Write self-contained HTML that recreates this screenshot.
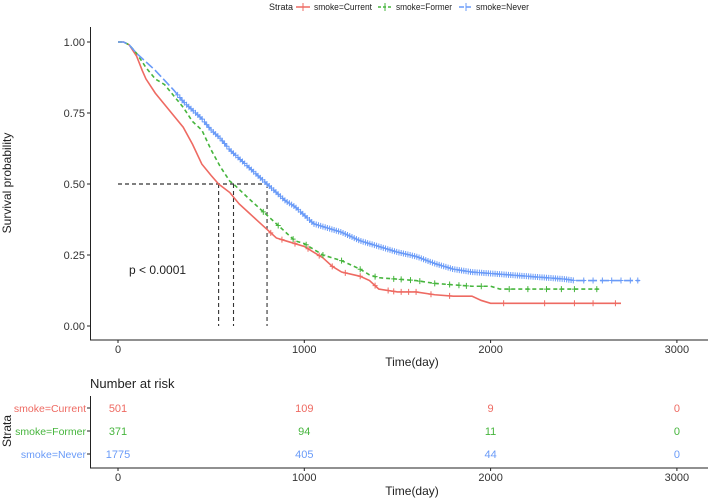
<!DOCTYPE html>
<html><head><meta charset="utf-8"><style>
body{margin:0;background:#fff;}
svg{display:block;font-family:"Liberation Sans",sans-serif;}
</style></head><body>
<svg id="chart" width="708" height="499" viewBox="0 0 708 499">
<g id="legend">
<text x="269" y="10" font-size="9" fill="#222">Strata</text>
<g><line x1="296" y1="7" x2="310" y2="7" stroke="#EE6A62" stroke-width="1.5"/><line x1="303" y1="3" x2="303" y2="11" stroke="#EE6A62" stroke-width="1"/><text x="314" y="10" font-size="9" fill="#222" textLength="58" lengthAdjust="spacingAndGlyphs">smoke=Current</text></g>
<g><line x1="378" y1="7" x2="392" y2="7" stroke="#46B53D" stroke-width="1.5" stroke-dasharray="3,2"/><line x1="385" y1="3" x2="385" y2="11" stroke="#46B53D" stroke-width="1"/><text x="396" y="10" font-size="9" fill="#222" textLength="56" lengthAdjust="spacingAndGlyphs">smoke=Former</text></g>
<g><line x1="459" y1="7" x2="473" y2="7" stroke="#6A9BF8" stroke-width="1.5" stroke-dasharray="5,2"/><line x1="466" y1="3" x2="466" y2="11" stroke="#6A9BF8" stroke-width="1"/><text x="476" y="10" font-size="9" fill="#222" textLength="53" lengthAdjust="spacingAndGlyphs">smoke=Never</text></g>
</g>
<g id="main"></g>
<g id="risk"></g>
</svg>
<script>
const xTicks=[0,1000,2000,3000];
const yTicks=[0,0.25,0.5,0.75,1];
const yTickLabels=["0.00","0.25","0.50","0.75","1.00"];
const seriesNames=["smoke=Current","smoke=Former","smoke=Never"];
const currentT=[0,30,60,100,130,150,200,250,300,350,400,450,500,540,600,650,700,750,800,850,900,1000,1050,1100,1150,1200,1300,1350,1400,1500,1600,1700,1800,1900,1950,2000,2700];
const currentS=[1,1,0.99,0.95,0.90,0.87,0.82,0.78,0.74,0.70,0.64,0.57,0.53,0.50,0.47,0.43,0.40,0.37,0.34,0.31,0.30,0.28,0.26,0.24,0.21,0.19,0.175,0.16,0.13,0.12,0.12,0.11,0.105,0.105,0.09,0.08,0.08];
const formerT=[0,30,60,100,150,200,250,300,350,400,450,500,550,600,620,700,800,850,900,950,1000,1050,1100,1200,1300,1350,1400,1500,1600,1700,1800,1900,2000,2050,2580];
const formerS=[1,1,0.99,0.96,0.91,0.87,0.85,0.81,0.77,0.72,0.69,0.62,0.56,0.51,0.50,0.45,0.39,0.36,0.33,0.30,0.29,0.27,0.25,0.23,0.20,0.18,0.17,0.165,0.16,0.15,0.145,0.14,0.14,0.13,0.13];
const neverT=[0,30,60,100,200,300,350,400,450,500,550,600,650,700,750,800,850,900,950,1000,1050,1100,1200,1300,1400,1500,1600,1700,1800,1900,2000,2100,2200,2300,2400,2450,2800];
const neverS=[1,1,0.99,0.96,0.90,0.83,0.79,0.76,0.73,0.69,0.66,0.62,0.59,0.56,0.53,0.50,0.47,0.44,0.42,0.39,0.36,0.35,0.33,0.30,0.28,0.26,0.245,0.22,0.20,0.19,0.185,0.18,0.175,0.17,0.165,0.16,0.16];
const currentCens=[820,880,950,1020,1080,1150,1220,1300,1380,1450,1480,1520,1560,1600,1680,1780,2070,2290,2450,2550,2670];
const formerCens=[780,860,940,1010,1100,1200,1300,1380,1480,1520,1570,1620,1700,1780,1830,1870,1950,2100,2200,2300,2380,2450,2570];
const neverCens=[];
for(let t=320;t<=2450;t+=12){neverCens.push(t);}
neverCens.push(2500,2550,2600,2650,2700,2750,2790);
const medians=[540,620,800];
const riskCurrent=[501,109,9,0];
const riskFormer=[371,94,11,0];
const riskNever=[1775,405,44,0];
const colors=["#EE6A62","#46B53D","#6A9BF8"];
const dashes=["none","4,3","9,3"];

const NS="http://www.w3.org/2000/svg";
function mk(tag,attrs,parent,text){const e=document.createElementNS(NS,tag);for(const k in attrs)e.setAttribute(k,attrs[k]);if(text!==undefined)e.textContent=text;parent.appendChild(e);return e;}
const X=t=>118+t*0.1863;
const Y=s=>326-s*284;
const main=document.getElementById('main');
let ax=mk('line',{x1:90.5,y1:27,x2:90.5,y2:340,stroke:'#222','stroke-width':1},main);


ax=mk('line',{x1:90,y1:340,x2:708,y2:340,stroke:'#222','stroke-width':1},main);


yTicks.forEach((v,i)=>{
  mk('line',{x1:87,x2:90,y1:Y(v),y2:Y(v),stroke:'#222'},main);
  const t=mk('text',{x:85,y:Y(v)+4,'text-anchor':'end','font-size':11,fill:'#333'},main,yTickLabels[i]);
  
  
});
xTicks.forEach(v=>{
  mk('line',{x1:X(v),x2:X(v),y1:340,y2:343,stroke:'#222'},main);
  const t=mk('text',{x:X(v),y:353,'text-anchor':'middle','font-size':11,fill:'#333'},main,String(v));
  
  
});
let tt=mk('text',{x:412,y:366,'text-anchor':'middle','font-size':12,fill:'#222'},main,'Time(day)');


tt=mk('text',{transform:'translate(11,183) rotate(-90)','text-anchor':'middle','font-size':12,fill:'#222'},main,'Survival probability');


tt=mk('text',{x:129,y:274,'font-size':12,fill:'#222'},main,'p < 0.0001');


const maxMed=Math.max(...medians);
let ml=mk('line',{x1:X(0),x2:X(maxMed),y1:Y(0.5),y2:Y(0.5),stroke:'#333','stroke-width':1.2,'stroke-dasharray':'4,3'},main);


medians.forEach(m=>{
  const l=mk('line',{x1:X(m),x2:X(m),y1:Y(0.5),y2:Y(0),stroke:'#333','stroke-width':1.1,'stroke-dasharray':'4,3'},main);
  
  
});
function valAt(T,S,t){
  for(let i=1;i<T.length;i++){ if(t<=T[i]){const f=(t-T[i-1])/(T[i]-T[i-1]);return S[i-1]+f*(S[i]-S[i-1]);} }
  return S[S.length-1];
}
const all=[[currentT,currentS,currentCens],[formerT,formerS,formerCens],[neverT,neverS,neverCens]];
const names=['current','former','never'];
all.forEach((d,k)=>{
  const [T,S,C]=d;
  let p='M'+X(T[0])+','+Y(S[0]);
  for(let i=1;i<T.length;i++){p+='L'+X(T[i])+','+Y(S[i]);}
  const g=mk('g',{},main);
  
  
  mk('path',{d:p,fill:'none',stroke:colors[k],'stroke-width':1.6,'stroke-dasharray':dashes[k]},g);
  C.forEach(t=>{
    const x=X(t),y=Y(valAt(T,S,t));
    const c=mk('path',{d:`M${x-2.5},${y}H${x+2.5}M${x},${y-3}V${y+3}`,stroke:colors[k],'stroke-width':1},g);
    
    
  });
});
const risk=document.getElementById('risk');
tt=mk('text',{x:90,y:388,'font-size':13,fill:'#222'},risk,'Number at risk');


mk('line',{x1:90.5,y1:396,x2:90.5,y2:468,stroke:'#222'},risk);
mk('line',{x1:90,y1:468,x2:708,y2:468,stroke:'#222'},risk);
const rows=[riskCurrent,riskFormer,riskNever];
const rowY=[408,431,454];
rows.forEach((r,k)=>{
  mk('line',{x1:87,x2:90,y1:rowY[k],y2:rowY[k],stroke:'#222'},risk);
  const lab=mk('text',{x:86,y:rowY[k]+4,'text-anchor':'end','font-size':10.5,fill:colors[k]},risk,seriesNames[k]);
  
  
  r.forEach((v,i)=>{
    const t=mk('text',{x:X(xTicks[i]),y:rowY[k]+4,'text-anchor':'middle','font-size':11,fill:colors[k]},risk,String(v));
    
    
  });
});
xTicks.forEach(v=>{
  mk('line',{x1:X(v),x2:X(v),y1:468,y2:471,stroke:'#222'},risk);
  const t=mk('text',{x:X(v),y:481,'text-anchor':'middle','font-size':11,fill:'#333'},risk,String(v));
  
  
});
tt=mk('text',{x:412,y:495,'text-anchor':'middle','font-size':12,fill:'#222'},risk,'Time(day)');


tt=mk('text',{transform:'translate(11,431) rotate(-90)','text-anchor':'middle','font-size':12,fill:'#222'},risk,'Strata');


</script>
</body></html>
